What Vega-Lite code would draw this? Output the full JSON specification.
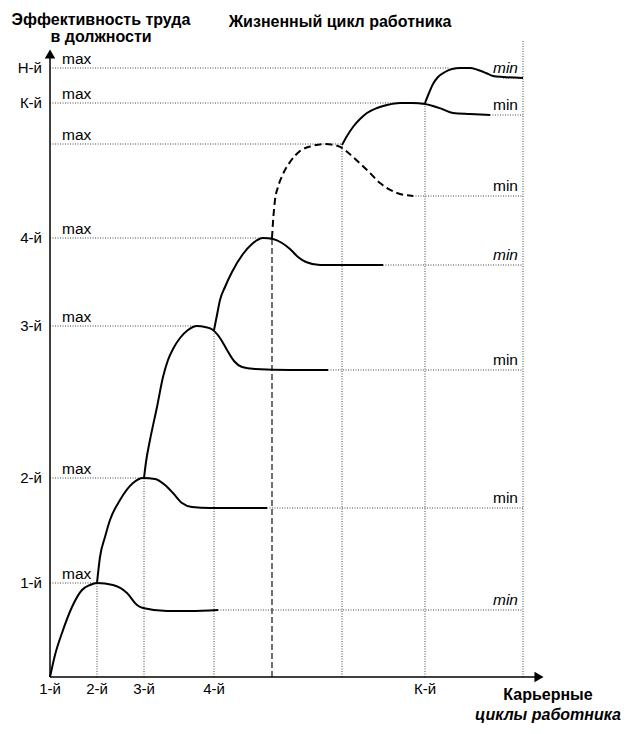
{
  "$schema": "https://vega.github.io/schema/vega-lite/v6.json",
  "width": 500,
  "height": 640,
  "autosize": {"type": "none"},
  "padding": {"left": 50, "top": 37, "right": 83, "bottom": 57},
  "background": "white",
  "config": {"view": {"stroke": null}, "font": "Liberation Sans"},
  "datasets": {
    "curves": [
      {"c": "1", "x": 0, "y": 0}, {"c": "1", "x": 5, "y": 22}, {"c": "1", "x": 12, "y": 44}, {"c": "1", "x": 22, "y": 70}, {"c": "1", "x": 32, "y": 87}, {"c": "1", "x": 40, "y": 92}, {"c": "1", "x": 47, "y": 94}, {"c": "1", "x": 63, "y": 92}, {"c": "1", "x": 77, "y": 84}, {"c": "1", "x": 87, "y": 72}, {"c": "1", "x": 93, "y": 69}, {"c": "1", "x": 117, "y": 66}, {"c": "1", "x": 140, "y": 66}, {"c": "1", "x": 168, "y": 67},
      {"c": "2", "x": 47, "y": 94}, {"c": "2", "x": 50, "y": 120}, {"c": "2", "x": 55, "y": 140}, {"c": "2", "x": 60, "y": 157}, {"c": "2", "x": 70, "y": 177}, {"c": "2", "x": 83, "y": 194}, {"c": "2", "x": 93, "y": 199}, {"c": "2", "x": 105, "y": 198}, {"c": "2", "x": 115, "y": 192}, {"c": "2", "x": 123, "y": 184}, {"c": "2", "x": 132, "y": 174}, {"c": "2", "x": 142, "y": 170}, {"c": "2", "x": 160, "y": 169}, {"c": "2", "x": 217, "y": 169},
      {"c": "3", "x": 94, "y": 199}, {"c": "3", "x": 96, "y": 215}, {"c": "3", "x": 100, "y": 237}, {"c": "3", "x": 107, "y": 270}, {"c": "3", "x": 113, "y": 300}, {"c": "3", "x": 118, "y": 317}, {"c": "3", "x": 123, "y": 328}, {"c": "3", "x": 130, "y": 339}, {"c": "3", "x": 138, "y": 347}, {"c": "3", "x": 147, "y": 351}, {"c": "3", "x": 155, "y": 350}, {"c": "3", "x": 163, "y": 347}, {"c": "3", "x": 170, "y": 339}, {"c": "3", "x": 177, "y": 327}, {"c": "3", "x": 184, "y": 316}, {"c": "3", "x": 192, "y": 310}, {"c": "3", "x": 205, "y": 308}, {"c": "3", "x": 240, "y": 307}, {"c": "3", "x": 278, "y": 307},
      {"c": "4", "x": 164, "y": 347}, {"c": "4", "x": 167, "y": 362}, {"c": "4", "x": 170, "y": 377}, {"c": "4", "x": 175, "y": 390}, {"c": "4", "x": 182, "y": 405}, {"c": "4", "x": 193, "y": 423}, {"c": "4", "x": 202, "y": 433}, {"c": "4", "x": 213, "y": 439}, {"c": "4", "x": 223, "y": 438}, {"c": "4", "x": 232, "y": 434}, {"c": "4", "x": 240, "y": 428}, {"c": "4", "x": 248, "y": 420}, {"c": "4", "x": 256, "y": 415}, {"c": "4", "x": 270, "y": 412}, {"c": "4", "x": 333, "y": 412},
      {"c": "K", "x": 292, "y": 532}, {"c": "K", "x": 297, "y": 541}, {"c": "K", "x": 303, "y": 550}, {"c": "K", "x": 310, "y": 558}, {"c": "K", "x": 317, "y": 564}, {"c": "K", "x": 327, "y": 569}, {"c": "K", "x": 337, "y": 572}, {"c": "K", "x": 350, "y": 574}, {"c": "K", "x": 362, "y": 574}, {"c": "K", "x": 375, "y": 573}, {"c": "K", "x": 383, "y": 571}, {"c": "K", "x": 392, "y": 568}, {"c": "K", "x": 403, "y": 564}, {"c": "K", "x": 420, "y": 563}, {"c": "K", "x": 440, "y": 562},
      {"c": "H", "x": 375, "y": 574}, {"c": "H", "x": 379, "y": 584}, {"c": "H", "x": 383, "y": 593}, {"c": "H", "x": 388, "y": 600}, {"c": "H", "x": 395, "y": 605}, {"c": "H", "x": 402, "y": 608}, {"c": "H", "x": 410, "y": 609}, {"c": "H", "x": 420, "y": 609}, {"c": "H", "x": 428, "y": 607}, {"c": "H", "x": 436, "y": 604}, {"c": "H", "x": 443, "y": 601}, {"c": "H", "x": 453, "y": 600}, {"c": "H", "x": 473, "y": 599}
    ],
    "dashedCurve": [
      {"x": 222, "y": 439}, {"x": 223, "y": 455}, {"x": 225, "y": 477}, {"x": 228, "y": 490}, {"x": 233, "y": 503}, {"x": 240, "y": 515}, {"x": 250, "y": 526}, {"x": 262, "y": 531}, {"x": 275, "y": 533}, {"x": 288, "y": 531}, {"x": 295, "y": 527}, {"x": 303, "y": 520}, {"x": 317, "y": 507}, {"x": 330, "y": 494}, {"x": 347, "y": 484}, {"x": 363, "y": 481}
    ],
    "vgrid": [
      {"x": 47, "bottom": 0, "top": 94}, {"x": 94, "bottom": 0, "top": 199}, {"x": 164, "bottom": 0, "top": 347}, {"x": 292, "bottom": 0, "top": 533}, {"x": 375, "bottom": 0, "top": 574}, {"x": 473, "bottom": 0, "top": 637}
    ],
    "hgrid": [
      {"y": 94, "x1": 0, "x2": 47}, {"y": 199, "x1": 0, "x2": 94}, {"y": 351, "x1": 0, "x2": 147}, {"y": 439, "x1": 0, "x2": 222}, {"y": 533, "x1": 0, "x2": 292}, {"y": 574, "x1": 0, "x2": 375}, {"y": 609, "x1": 0, "x2": 400},
      {"y": 67, "x1": 168, "x2": 473}, {"y": 169, "x1": 217, "x2": 473}, {"y": 307, "x1": 278, "x2": 473}, {"y": 412, "x1": 333, "x2": 473}, {"y": 481, "x1": 363, "x2": 473}, {"y": 562, "x1": 440, "x2": 473}, {"y": 599, "x1": 453, "x2": 473}
    ],
    "ylabels": [
      {"label": "1-й", "y": 94}, {"label": "2-й", "y": 199}, {"label": "3-й", "y": 351}, {"label": "4-й", "y": 439}, {"label": "К-й", "y": 574}, {"label": "Н-й", "y": 609}
    ],
    "xlabels": [
      {"label": "1-й", "x": 0}, {"label": "2-й", "x": 47}, {"label": "3-й", "x": 94}, {"label": "4-й", "x": 164}, {"label": "К-й", "x": 375}
    ],
    "maxlabels": [
      {"y": 94}, {"y": 199}, {"y": 351}, {"y": 439}, {"y": 533}, {"y": 574}, {"y": 609}
    ],
    "minlabels": [
      {"y": 67, "cycle": "1"}, {"y": 169, "cycle": "2"}, {"y": 307, "cycle": "3"}, {"y": 412, "cycle": "4"}, {"y": 481, "cycle": "5"}, {"y": 562, "cycle": "K"}, {"y": 599, "cycle": "H"}
    ]
  },
  "layer": [
    {
      "data": {"name": "vgrid"},
      "mark": {"type": "rule", "stroke": "#444", "strokeWidth": 1, "strokeDash": [1, 1.5]},
      "encoding": {
        "x": {"field": "x", "type": "quantitative", "scale": {"domain": [0, 500], "nice": false, "zero": false}, "axis": null},
        "y": {"field": "bottom", "type": "quantitative", "scale": {"domain": [0, 640], "nice": false, "zero": false}, "axis": null},
        "y2": {"field": "top"}
      }
    },
    {
      "data": {"values": [{"x": 222, "bottom": 0, "top": 439}]},
      "mark": {"type": "rule", "stroke": "#111", "strokeWidth": 1.2, "strokeDash": [6, 3]},
      "encoding": {"x": {"field": "x", "type": "quantitative"}, "y": {"field": "bottom", "type": "quantitative"}, "y2": {"field": "top"}}
    },
    {
      "data": {"name": "hgrid"},
      "mark": {"type": "rule", "stroke": "#444", "strokeWidth": 1, "strokeDash": [1, 1.5]},
      "encoding": {"x": {"field": "x1", "type": "quantitative"}, "x2": {"field": "x2"}, "y": {"field": "y", "type": "quantitative"}}
    },
    {
      "data": {"name": "curves"},
      "mark": {"type": "line", "stroke": "black", "strokeWidth": 2, "interpolate": "monotone"},
      "encoding": {"x": {"field": "x", "type": "quantitative"}, "y": {"field": "y", "type": "quantitative"}, "detail": {"field": "c", "type": "nominal"}}
    },
    {
      "data": {"name": "dashedCurve"},
      "mark": {"type": "line", "stroke": "black", "strokeWidth": 2, "interpolate": "monotone", "strokeDash": [7, 4]},
      "encoding": {"x": {"field": "x", "type": "quantitative"}, "y": {"field": "y", "type": "quantitative"}}
    },
    {
      "data": {"values": [{"x": 0, "y": 0, "x2": 0, "y2": 620}, {"x": 0, "y": 0, "x2": 485, "y2": 0}]},
      "mark": {"type": "rule", "stroke": "black", "strokeWidth": 1.5},
      "encoding": {"x": {"field": "x", "type": "quantitative"}, "y": {"field": "y", "type": "quantitative"}, "x2": {"field": "x2"}, "y2": {"field": "y2"}}
    },
    {
      "data": {"values": [{"x": 0, "y": 623, "dir": "up"}, {"x": 489, "y": 0, "dir": "right"}]},
      "mark": {"type": "point", "filled": true, "color": "black", "size": 110, "opacity": 1},
      "encoding": {
        "x": {"field": "x", "type": "quantitative"},
        "y": {"field": "y", "type": "quantitative"},
        "shape": {"field": "dir", "type": "nominal", "scale": {"domain": ["up", "right"], "range": ["triangle-up", "triangle-right"]}, "legend": null}
      }
    },
    {
      "data": {"name": "ylabels"},
      "mark": {"type": "text", "align": "right", "baseline": "middle", "fontSize": 15, "color": "black", "dx": -8},
      "encoding": {"x": {"datum": 0, "type": "quantitative"}, "y": {"field": "y", "type": "quantitative"}, "text": {"field": "label", "type": "nominal"}}
    },
    {
      "data": {"name": "xlabels"},
      "mark": {"type": "text", "align": "center", "baseline": "middle", "fontSize": 15, "color": "black", "dy": 12},
      "encoding": {"x": {"field": "x", "type": "quantitative"}, "y": {"datum": 0, "type": "quantitative"}, "text": {"field": "label", "type": "nominal"}}
    },
    {
      "data": {"name": "maxlabels"},
      "mark": {"type": "text", "align": "left", "baseline": "alphabetic", "fontSize": 15.5, "color": "black", "dy": -4, "dx": 12},
      "encoding": {"x": {"datum": 0, "type": "quantitative"}, "y": {"field": "y", "type": "quantitative"}, "text": {"value": "max"}}
    },
    {
      "data": {"name": "minlabels"},
      "transform": [{"filter": {"field": "cycle", "oneOf": ["1", "4", "H"]}}],
      "mark": {"type": "text", "align": "right", "baseline": "alphabetic", "fontSize": 15.5, "fontStyle": "italic", "color": "black", "dy": -5, "dx": -5},
      "encoding": {"x": {"datum": 473, "type": "quantitative"}, "y": {"field": "y", "type": "quantitative"}, "text": {"value": "min"}}
    },
    {
      "data": {"name": "minlabels"},
      "transform": [{"filter": {"field": "cycle", "oneOf": ["2", "3", "5", "K"]}}],
      "mark": {"type": "text", "align": "right", "baseline": "alphabetic", "fontSize": 15.5, "color": "black", "dy": -5, "dx": -5},
      "encoding": {"x": {"datum": 473, "type": "quantitative"}, "y": {"field": "y", "type": "quantitative"}, "text": {"value": "min"}}
    },
    {
      "data": {"values": [
        {"t": "Эффективность труда", "x": 51, "y": 652},
        {"t": "в должности", "x": 51, "y": 635},
        {"t": "Жизненный цикл работника", "x": 290, "y": 650},
        {"t": "Карьерные", "x": 498, "y": -23}
      ]},
      "mark": {"type": "text", "align": "center", "baseline": "alphabetic", "fontSize": 16, "fontWeight": "bold", "color": "black"},
      "encoding": {"x": {"field": "x", "type": "quantitative"}, "y": {"field": "y", "type": "quantitative"}, "text": {"field": "t", "type": "nominal"}}
    },
    {
      "data": {"values": [{"t": "циклы работника", "x": 498, "y": -43}]},
      "mark": {"type": "text", "align": "center", "baseline": "alphabetic", "fontSize": 16, "fontWeight": "bold", "fontStyle": "italic", "color": "black"},
      "encoding": {"x": {"field": "x", "type": "quantitative"}, "y": {"field": "y", "type": "quantitative"}, "text": {"field": "t", "type": "nominal"}}
    }
  ]
}
